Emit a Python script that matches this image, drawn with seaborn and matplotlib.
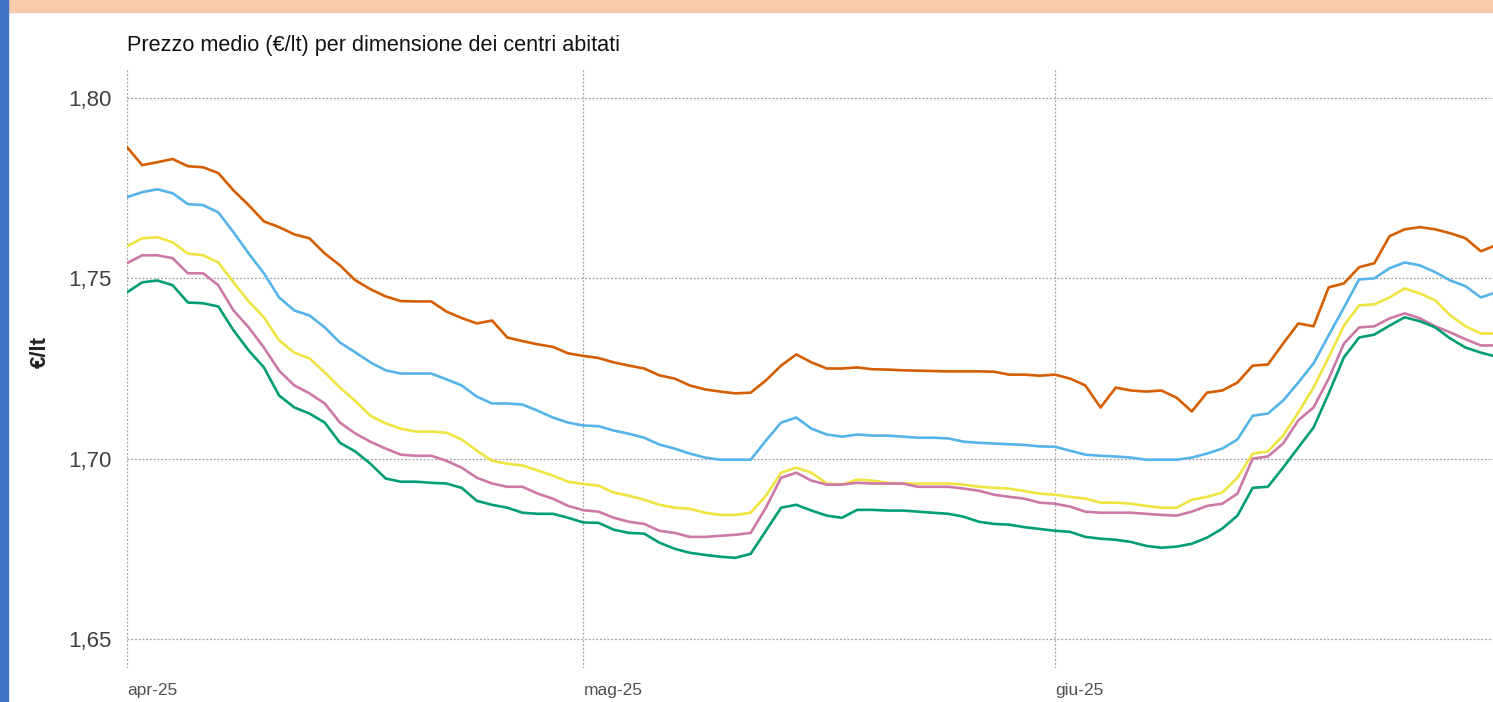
import numpy as np
import pandas as pd
import matplotlib
matplotlib.use("Agg")
import matplotlib.pyplot as plt
import matplotlib.dates as mdates
from matplotlib.patches import Rectangle
from matplotlib.ticker import FuncFormatter
import seaborn as sns

# daily average price (€/lt), 1 Apr 2025 -> 30 Jun 2025
dates = pd.date_range("2025-04-01", periods=91, freq="D")

serie_arancio = [
    1.7864, 1.7814, 1.7822, 1.7831, 1.7811, 1.7808, 1.7792, 1.7744, 1.7703, 1.7658,
    1.7642, 1.7622, 1.7611, 1.7569, 1.7536, 1.7495, 1.7470, 1.7450, 1.7437, 1.7436,
    1.7436, 1.7408, 1.7390, 1.7375, 1.7383, 1.7336, 1.7326, 1.7317, 1.7310, 1.7292,
    1.7285, 1.7279, 1.7267, 1.7258, 1.7250, 1.7231, 1.7222, 1.7203, 1.7192, 1.7186,
    1.7181, 1.7183, 1.7217, 1.7258, 1.7289, 1.7267, 1.7250, 1.7250, 1.7253, 1.7248,
    1.7247, 1.7245, 1.7244, 1.7243, 1.7242, 1.7242, 1.7242, 1.7241, 1.7233, 1.7233,
    1.7230, 1.7233, 1.7222, 1.7203, 1.7142, 1.7197, 1.7189, 1.7186, 1.7189, 1.7169,
    1.7131, 1.7183, 1.7189, 1.7211, 1.7258, 1.7261, 1.7319, 1.7375, 1.7367, 1.7475,
    1.7486, 1.7531, 1.7542, 1.7617, 1.7636, 1.7642, 1.7636, 1.7625, 1.7611, 1.7575,
    1.7592,
]
serie_azzurro = [
    1.7725, 1.7739, 1.7747, 1.7736, 1.7706, 1.7703, 1.7683, 1.7628, 1.7569, 1.7514,
    1.7447, 1.7411, 1.7397, 1.7364, 1.7322, 1.7295, 1.7267, 1.7245, 1.7236, 1.7236,
    1.7236, 1.7220, 1.7203, 1.7172, 1.7153, 1.7153, 1.7150, 1.7133, 1.7114, 1.7100,
    1.7092, 1.7090, 1.7078, 1.7069, 1.7058, 1.7039, 1.7028, 1.7014, 1.7003, 1.6997,
    1.6997, 1.6997, 1.7050, 1.7100, 1.7114, 1.7083, 1.7067, 1.7061, 1.7067, 1.7064,
    1.7064, 1.7061, 1.7058, 1.7058, 1.7056, 1.7047, 1.7044, 1.7042, 1.7040, 1.7038,
    1.7034, 1.7033, 1.7022, 1.7011, 1.7008, 1.7006, 1.7003, 1.6997, 1.6997, 1.6997,
    1.7003, 1.7014, 1.7028, 1.7053, 1.7119, 1.7125, 1.7161, 1.7211, 1.7264, 1.7342,
    1.7419, 1.7497, 1.7500, 1.7528, 1.7544, 1.7536, 1.7517, 1.7494, 1.7478, 1.7447,
    1.7461,
]
serie_giallo = [
    1.7589, 1.7611, 1.7614, 1.7600, 1.7569, 1.7564, 1.7544, 1.7489, 1.7436, 1.7392,
    1.7328, 1.7294, 1.7278, 1.7239, 1.7197, 1.7160, 1.7119, 1.7098, 1.7083, 1.7075,
    1.7075, 1.7072, 1.7053, 1.7022, 1.6994, 1.6986, 1.6981, 1.6967, 1.6953, 1.6936,
    1.6930, 1.6925, 1.6906, 1.6897, 1.6886, 1.6872, 1.6864, 1.6861, 1.6850, 1.6844,
    1.6844, 1.6850, 1.6897, 1.6961, 1.6975, 1.6961, 1.6931, 1.6928, 1.6942, 1.6939,
    1.6933, 1.6931, 1.6931, 1.6931, 1.6931, 1.6928, 1.6922, 1.6919, 1.6917, 1.6910,
    1.6903, 1.6900, 1.6894, 1.6889, 1.6878, 1.6878, 1.6875, 1.6869, 1.6864, 1.6864,
    1.6886, 1.6894, 1.6906, 1.6947, 1.7014, 1.7020, 1.7064, 1.7128, 1.7197, 1.7281,
    1.7369, 1.7425, 1.7428, 1.7447, 1.7472, 1.7458, 1.7439, 1.7397, 1.7367, 1.7347,
    1.7347,
]
serie_rosa = [
    1.7542, 1.7564, 1.7564, 1.7556, 1.7514, 1.7514, 1.7481, 1.7411, 1.7364, 1.7308,
    1.7244, 1.7203, 1.7181, 1.7153, 1.7100, 1.7070, 1.7047, 1.7028, 1.7011, 1.7008,
    1.7008, 1.6994, 1.6975, 1.6947, 1.6931, 1.6922, 1.6922, 1.6903, 1.6889, 1.6869,
    1.6857, 1.6853, 1.6836, 1.6825, 1.6819, 1.6800, 1.6794, 1.6783, 1.6783, 1.6786,
    1.6789, 1.6794, 1.6864, 1.6947, 1.6961, 1.6939, 1.6928, 1.6928, 1.6933, 1.6931,
    1.6931, 1.6931, 1.6922, 1.6922, 1.6922, 1.6917, 1.6911, 1.6900, 1.6894, 1.6889,
    1.6878, 1.6875, 1.6867, 1.6853, 1.6850, 1.6850, 1.6850, 1.6847, 1.6844, 1.6842,
    1.6853, 1.6869, 1.6875, 1.6903, 1.7000, 1.7006, 1.7042, 1.7106, 1.7142, 1.7222,
    1.7319, 1.7364, 1.7367, 1.7389, 1.7403, 1.7389, 1.7367, 1.7350, 1.7331, 1.7314,
    1.7314,
]
serie_verde = [
    1.7461, 1.7489, 1.7494, 1.7481, 1.7433, 1.7431, 1.7422, 1.7356, 1.7300, 1.7253,
    1.7175, 1.7142, 1.7125, 1.7100, 1.7044, 1.7020, 1.6986, 1.6945, 1.6936, 1.6936,
    1.6933, 1.6931, 1.6919, 1.6883, 1.6872, 1.6864, 1.6850, 1.6847, 1.6847, 1.6836,
    1.6823, 1.6822, 1.6803, 1.6794, 1.6792, 1.6767, 1.6750, 1.6739, 1.6733, 1.6728,
    1.6725, 1.6736, 1.6800, 1.6864, 1.6872, 1.6856, 1.6842, 1.6836, 1.6858, 1.6858,
    1.6856, 1.6856, 1.6853, 1.6850, 1.6847, 1.6839, 1.6825, 1.6819, 1.6817, 1.6810,
    1.6805, 1.6800, 1.6797, 1.6783, 1.6778, 1.6775, 1.6769, 1.6758, 1.6753, 1.6756,
    1.6764, 1.6781, 1.6806, 1.6842, 1.6919, 1.6922, 1.6975, 1.7031, 1.7086, 1.7181,
    1.7281, 1.7336, 1.7344, 1.7369, 1.7392, 1.7381, 1.7364, 1.7333, 1.7308, 1.7294,
    1.7283,
]

gruppi = ["gruppo 1", "gruppo 2", "gruppo 3", "gruppo 4", "gruppo 5"]
colori = ["#D55E00", "#56B4E9", "#F0E442", "#CC79A7", "#009E73"]
y_ticks = [1.65, 1.70, 1.75, 1.80]
x_ticks = ["2025-04-01", "2025-05-01", "2025-06-01"]
x_labels = ["apr-25", "mag-25", "giu-25"]

df = pd.DataFrame({
    "data": np.tile(dates, 5),
    "prezzo": serie_arancio + serie_azzurro + serie_giallo + serie_rosa + serie_verde,
    "gruppo": np.repeat(gruppi, len(dates)),
})

sns.set_style("white")
plt.rcParams["font.family"] = ["Liberation Sans", "DejaVu Sans"]

W, H = 1493, 702
fig = plt.figure(figsize=(W / 100, H / 100), dpi=100)
ax = fig.add_axes([127 / W, 1 - 668 / H, (W - 127) / W, 600 / H])

sns.lineplot(data=df, x="data", y="prezzo", hue="gruppo", palette=colori,
             linewidth=1.9, legend=False, ax=ax)

x0 = mdates.date2num(pd.Timestamp("2025-04-01"))
ax.set_xlim(x0, x0 + 89.8)
ax.set_ylim(1.65 - 29 / 3600, 1.80 + 30 / 3600)

ax.set_yticks(y_ticks)
ax.yaxis.set_major_formatter(FuncFormatter(lambda v, p: f"{v:.2f}".replace(".", ",")))
ax.set_xticks(mdates.date2num(pd.to_datetime(x_ticks)))
ax.set_xticklabels(x_labels, ha="left")
ax.tick_params(axis="y", length=0, pad=11, labelsize=16, labelcolor="#404040")
ax.tick_params(axis="x", length=0, pad=11, labelsize=12.5, labelcolor="#505050")

ax.grid(True, linestyle=(0, (1.5, 1.5)), color="#a0a0a0", linewidth=0.9)
for s in ax.spines.values():
    s.set_visible(False)

ax.set_xlabel("")
ax.set_ylabel("")
fig.text(40 / W, 1 - 352 / H, "€/lt", rotation=90, fontsize=16, fontweight="bold",
         color="#222222", ha="center", va="center")

fig.text(127 / W, 1 - 45 / H, "Prezzo medio (€/lt) per dimensione dei centri abitati",
         fontsize=15.6, color="#111111", va="center", ha="left")

# decorative frame bits from the original slide
fig.patches.append(Rectangle((0, 1 - 12 / H), 1, 12 / H, transform=fig.transFigure,
                             color="#F8CBAD", zorder=0))
fig.patches.append(Rectangle((0, 0), 8 / W, 1, transform=fig.transFigure,
                             color="#4472C4", zorder=0))

fig.savefig("out.png", dpi=100)
